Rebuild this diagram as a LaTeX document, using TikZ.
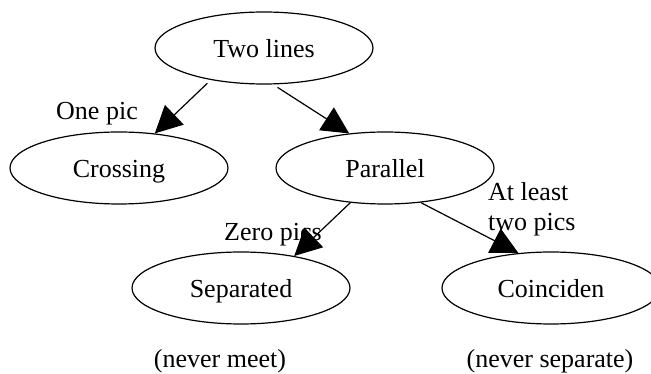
\documentclass[tikz,border=0pt]{standalone}
\usepackage{fontspec}
\setmainfont{Liberation Serif}
\usetikzlibrary{shapes.geometric,arrows.meta}
\begin{document}
\begin{tikzpicture}[x=1pt,y=-1pt,
  state/.style={ellipse,draw,line width=1.2pt,minimum width=218pt,minimum height=72pt,
    inner sep=0pt,text height=20pt,text depth=0pt,font=\fontsize{26}{30}\selectfont},
  lbl/.style={font=\fontsize{26}{30}\selectfont,inner sep=0pt},
  link/.style={line width=1.2pt,-{Triangle[length=27pt,width=27pt]}}]
\useasboundingbox (0,0) rectangle (651,374);

% the five cases
\node[state] (two)  at (264,48)  {Two lines};
\node[state] (cross) at (119,168) {Crossing};
\node[state] (par)  at (385,168) {Parallel};
\node[state] (sep)  at (241,288) {Separated};
\node[state] (coin) at (551,288) {Coinciden};

% branches
\draw[link] ([shift={(-5,3)}]two.212) -- (cross.44);
\draw[link] ([shift={(1,3)}]two.289) -- (par.136);
\draw[link] (par.225) -- (sep.31);
\draw[link] (par.316) -- (coin.133);

% branch labels
\node[lbl] (l1) at (97,114) {One pic};
\node[lbl,anchor=west] (l2) at (224,235) {Zero pics};
\node[lbl,anchor=west,align=left] (l3) at (488,209) {At least\\two pics};

% notes under the bottom cases
\node[lbl] (n1) at (220,361) {(never meet)};
\node[lbl] (n2) at (550,361) {(never separate)};
\end{tikzpicture}
\end{document}
